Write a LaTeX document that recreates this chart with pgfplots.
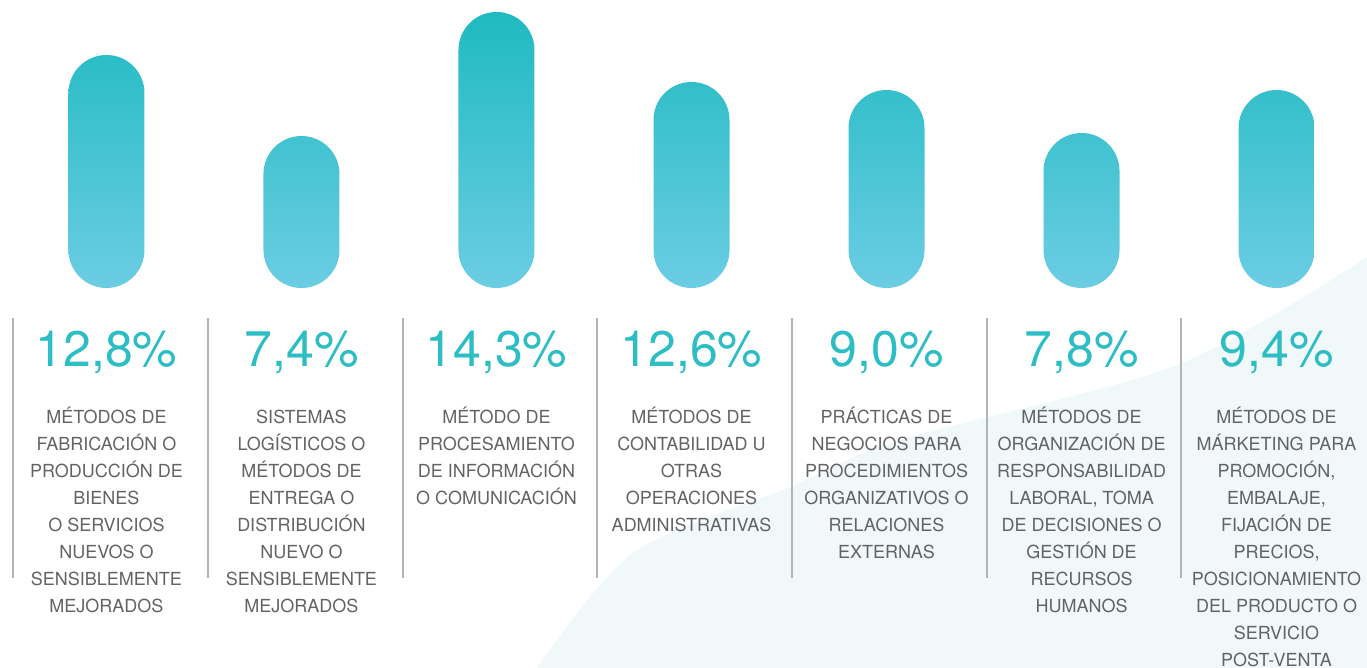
\documentclass[border=0pt]{standalone}
\usepackage{pgfplots}
\pgfplotsset{compat=1.18}
\usepackage{pgfplotstable}
\usepackage{fontspec}
\setmainfont{TeX Gyre Heros}
\definecolor{bartop}{HTML}{1FBAC1}
\definecolor{barbot}{HTML}{6BCDE3}
\definecolor{numcol}{HTML}{2DBDC4}
\definecolor{labcol}{HTML}{636363}
\definecolor{sepcol}{HTML}{B4B4B8}
\definecolor{bgcurve}{HTML}{F1F8F9}
% x: category position; h: drawn bar height (px); pct: value (%)
\pgfplotstableread{
x h pct
0 233 12.8
1 152 7.4
2 276 14.3
3 206 12.6
4 198 9.0
5 155 7.8
6 198 9.4
}\bardata
\begin{document}
\begin{tikzpicture}
\useasboundingbox (0pt,-380pt) rectangle (1367pt,288pt);
\clip (0pt,-380pt) rectangle (1367pt,288pt);
\fill[bgcurve] plot[smooth] coordinates {(537pt,-380pt) (633pt,-265pt) (790pt,-199pt) (900pt,-152pt) (1177pt,-77pt) (1367pt,31pt)} -- (1400pt,31pt) -- (1400pt,-400pt) -- (537pt,-400pt) -- cycle;
\foreach \xx in {13,208,403,597,792,987,1181}{
  \draw[sepcol, line width=2.5pt] (\xx pt,-30pt) -- (\xx pt,-290pt);
}
\begin{axis}[
  at={(0pt,0pt)}, anchor=south west,
  scale only axis, width=1367pt, height=288pt,
  xmin=-0.546, xmax=6.464, ymin=0, ymax=288,
  axis line style={draw=none},
  major tick length=0pt,
  ytick=\empty,
  xtick={0,1,2,3,4,5,6},
  xticklabels={
    {\strut MÉTODOS DE\\FABRICACIÓN O\\PRODUCCIÓN DE\\BIENES\\O SERVICIOS\\NUEVOS O\\SENSIBLEMENTE\\MEJORADOS},
    {\strut SISTEMAS\\LOGÍSTICOS O\\MÉTODOS DE\\ENTREGA O\\DISTRIBUCIÓN\\NUEVO O\\SENSIBLEMENTE\\MEJORADOS},
    {\strut MÉTODO DE\\PROCESAMIENTO\\DE INFORMACIÓN\\O COMUNICACIÓN},
    {\strut MÉTODOS DE\\CONTABILIDAD U\\OTRAS\\OPERACIONES\\ADMINISTRATIVAS},
    {\strut PRÁCTICAS DE\\NEGOCIOS PARA\\PROCEDIMIENTOS\\ORGANIZATIVOS O\\RELACIONES\\EXTERNAS},
    {\strut MÉTODOS DE\\ORGANIZACIÓN DE\\RESPONSABILIDAD\\{LABORAL, TOMA}\\DE DECISIONES O\\GESTIÓN DE\\RECURSOS\\HUMANOS},
    {\strut MÉTODOS DE\\MÁRKETING PARA\\{PROMOCIÓN,}\\{EMBALAJE,}\\FIJACIÓN DE\\{PRECIOS,}\\POSICIONAMIENTO\\DEL PRODUCTO O\\SERVICIO\\POST-VENTA}
  },
  xticklabel style={anchor=north, inner sep=0pt, align=center, text=labcol,
    font=\fontsize{18}{27}\selectfont, yshift=-116.1pt},
  extra x ticks={0,1,2,3,4,5,6},
  extra x tick labels={{12,8\%},{7,4\%},{14,3\%},{12,6\%},{9,0\%},{7,8\%},{9,4\%}},
  extra x tick style={xticklabel style={anchor=base, inner sep=0pt, text=numcol,
    font=\fontsize{50}{50}\selectfont, yshift=38pt}},
  clip=false,
]
\addplot[ybar, bar width=76pt, draw=none, top color=bartop, bottom color=barbot,
  rounded corners=38pt] table[x=x, y=h] {\bardata};
\end{axis}
\end{tikzpicture}
\end{document}
